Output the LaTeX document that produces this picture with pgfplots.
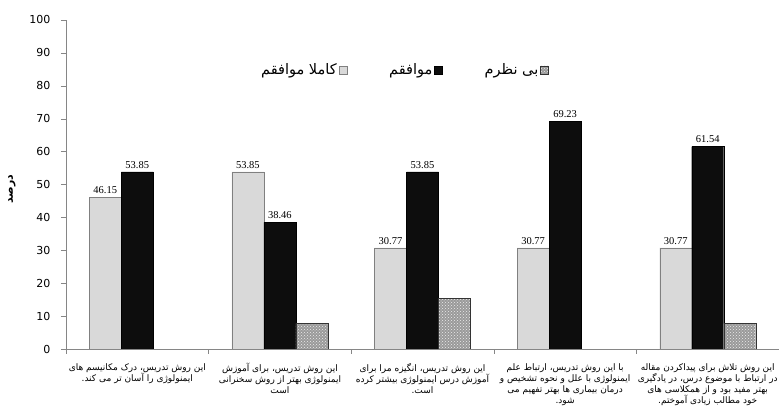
\documentclass[border=0pt]{standalone}
\usepackage{fontspec}
\setmainfont{DejaVu Sans}
\newfontfamily\arabicfont[Script=Arabic]{DejaVu Sans}
\newfontfamily\numfont{Liberation Serif}
\TeXXeTstate=1
\usepackage{pgfplots}
\pgfplotsset{compat=1.18}
\usetikzlibrary{patterns}

\definecolor{lightbar}{HTML}{D9D9D9}
\definecolor{darkbar}{HTML}{0D0D0D}
\definecolor{axisgray}{HTML}{868686}
\definecolor{mottled}{HTML}{9A9A9A}

\begin{document}
\begin{tikzpicture}
  \begin{axis}[
    ybar=0pt,
    bar width=32pt,
    width=713pt, height=329pt,
    scale only axis,
    xmin=0.5, xmax=5.5,
    ymin=0, ymax=100,
    ytick={0,10,...,100},
    xtick={1,2,3,4,5},
    minor xtick={0.5,1.5,2.5,3.5,4.5,5.5},
    major x tick style={draw=none},
    minor x tick style={draw=axisgray},
    y tick style={draw=axisgray},
    major tick length=5pt, minor tick length=5pt,
    tick align=outside,
    axis x line*=bottom, axis y line*=left,
    axis line style={draw=axisgray, thick},
    /pgf/number format/assume math mode=true,
    yticklabel style={font=\fontsize{11}{13}\selectfont, xshift=-7pt},
    ylabel={\arabicfont\bfseries\beginR درصد\endR},
    ylabel style={font=\fontsize{11}{13}\selectfont,
      at={(axis description cs:-0.0757,0.485)}, anchor=center},
    xticklabel style={align=center, font=\arabicfont\fontsize{9}{11}\selectfont, yshift=-6pt},
    xticklabels={
      {\beginR این روش تدریس، درک مکانیسم های\endR\\ \beginR ایمنولوژی را آسان تر می کند.\endR},
      {\beginR این روش تدریس، برای آموزش\endR\\ \beginR ایمنولوژی بهتر از روش سخنرانی\endR\\ \beginR است\endR},
      {\beginR این روش تدریس، انگیزه مرا برای\endR\\ \beginR آموزش درس ایمنولوژی بیشتر کرده\endR\\ \beginR است.\endR},
      {\beginR با این روش تدریس، ارتباط علم\endR\\ \beginR ایمنولوژی با علل و نحوه تشخیص و\endR\\ \beginR درمان بیماری ها بهتر تفهیم می\endR\\ \beginR شود.\endR},
      {\beginR این روش تلاش برای پیداکردن مقاله\endR\\ \beginR در ارتباط با موضوع درس، در یادگیری\endR\\ \beginR بهتر مفید بود و از همکلاسی های\endR\\ \beginR خود مطالب زیادی آموختم.\endR}
    },
    legend columns=-1,
    legend plot pos=right,
    legend style={at={(0.474,0.848)}, anchor=center, draw=none,
      font=\arabicfont\fontsize{14.5}{16}\selectfont,
      /tikz/every even column/.append style={column sep=40pt}},
    legend image code/.code={\draw[#1] (0pt,-4pt) rectangle (8pt,4pt);},
    nodes near coords style={font=\numfont\fontsize{10.5}{12}\selectfont},
  ]
    \addplot[draw=gray, fill=lightbar,
      nodes near coords={\pgfmathprintnumber[fixed,fixed zerofill,precision=2,assume math mode=true]{\pgfplotspointmeta}}]
      coordinates {(1,46.15) (2,53.85) (3,30.77) (4,30.77) (5,30.77)};
    \addplot[draw=black, fill=darkbar,
      nodes near coords={\pgfmathprintnumber[fixed,fixed zerofill,precision=2,assume math mode=true]{\pgfplotspointmeta}}]
      coordinates {(1,53.85) (2,38.46) (3,53.85) (4,69.23) (5,61.54)};
    \addplot[draw=black!80, fill=mottled,
      postaction={pattern=crosshatch dots, pattern color=white!85!gray}]
      coordinates {(2,7.69) (3,15.38) (5,7.69)};
    \legend{\beginR کاملا موافقم\endR, \beginR موافقم\endR, \beginR بی نظرم\endR}
    \coordinate (bl) at (rel axis cs:0,0);
    \coordinate (tr) at (rel axis cs:1,1);
  \end{axis}
  \pgfresetboundingbox
  \path ([xshift=-66pt,yshift=-57pt]bl) rectangle ([yshift=20pt]tr);
\end{tikzpicture}
\end{document}
